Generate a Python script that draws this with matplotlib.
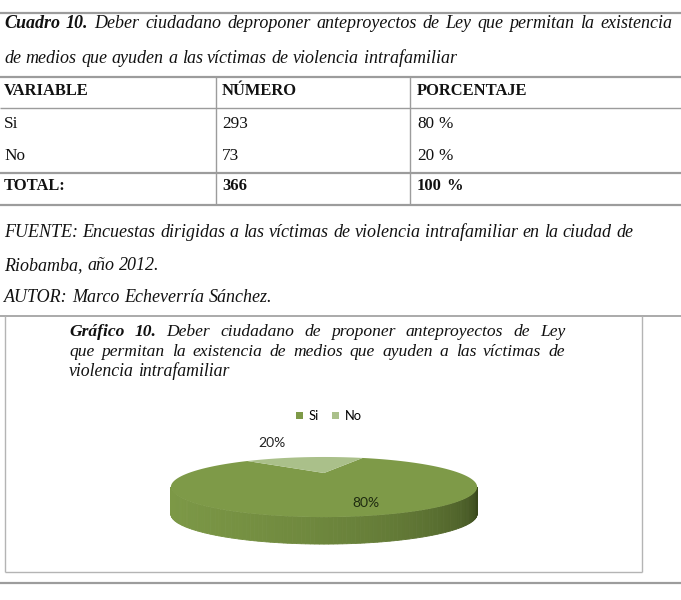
import numpy as np
import matplotlib.pyplot as plt

# datos del cuadro
variables = ['Si', 'No']
numeros = [293, 73]
porcentajes = [80, 20]
total_num = 366
total_pct = 100
encabezados = ['VARIABLE', 'NÚMERO', 'PORCENTAJE']
colores = ['#7e9a48', '#aac08a']

fig = plt.figure(figsize=(6.81, 6.0), dpi=100)
ax = fig.add_axes([0, 0, 1, 1])
ax.set_xlim(0, 681)
ax.set_ylim(600, 0)
ax.axis('off')
rend = fig.canvas.get_renderer()

SERIF = 'Liberation Serif'
SANS = ['Lato', 'DejaVu Sans']
gris = '#9c9c9c'
T_IT = 13.0   # texto cursiva
T_REG = 12.4  # celdas
T_BOLD = 11.9  # encabezados


def linea(x0, x1, y0, y1, lw=1.6, c=gris):
    ax.plot([x0, x1], [y0, y1], color=c, lw=lw, solid_capstyle='butt')


def texto(x, y, partes, size, ancho=None):
    # partes = [(texto, peso, estilo)], se justifica si hay ancho
    palabras = []
    for txt, w, st in partes:
        for p in txt.split(' '):
            if p:
                palabras.append((p, w, st))
    arts = [ax.text(0, y, p, fontsize=size, family=SERIF, weight=w, style=st,
                    va='baseline', ha='left', color='#111111') for p, w, st in palabras]
    anchos = [t.get_window_extent(rend).width for t in arts]
    gap = size * 0.25 * 100 / 72
    if ancho is not None and len(arts) > 1:
        gap = max(gap * 0.6, (ancho - sum(anchos)) / (len(arts) - 1))
    xx = x
    for t, w in zip(arts, anchos):
        t.set_x(xx)
        xx += w + gap


# ---- cuadro ----
linea(0, 681, 13, 13)
texto(4, 28, [('Cuadro 10.', 'bold', 'italic'),
              ('Deber ciudadano deproponer anteproyectos de Ley que permitan la existencia', 'normal', 'italic')],
      T_IT, ancho=668)
texto(4, 63, [('de medios que ayuden a las víctimas de violencia intrafamiliar', 'normal', 'italic')], T_IT)

linea(0, 681, 77, 77)
linea(0, 681, 108, 108, lw=1.0)
linea(0, 681, 173, 173)
linea(0, 681, 205, 205)
linea(216, 216, 77, 205, lw=1.0)
linea(410, 410, 77, 205, lw=1.0)

col_x = [4, 222, 417]
for xc, h in zip(col_x, encabezados):
    texto(xc, 95, [(h, 'bold', 'normal')], T_BOLD)
for i, v in enumerate(variables):
    yb = 128 + i * 32
    texto(col_x[0], yb, [(v, 'normal', 'normal')], T_REG)
    texto(col_x[1], yb, [(str(numeros[i]), 'normal', 'normal')], T_REG)
    texto(col_x[2], yb, [(f'{porcentajes[i]} %', 'normal', 'normal')], T_REG)
texto(col_x[0], 190, [('TOTAL:', 'bold', 'normal')], T_BOLD)
texto(col_x[1], 190, [(str(total_num), 'bold', 'normal')], T_BOLD)
texto(col_x[2], 190, [(f'{total_pct} %', 'bold', 'normal')], T_BOLD)

texto(4, 237, [('FUENTE: Encuestas dirigidas a las víctimas de violencia intrafamiliar en la ciudad de', 'normal', 'italic')], T_IT)
texto(4, 270, [('Riobamba, año 2012.', 'normal', 'italic')], T_IT)
texto(4, 302, [('AUTOR: Marco Echeverría Sánchez.', 'normal', 'italic')], T_IT)

# ---- recuadro del grafico ----
linea(0, 681, 316, 316, lw=1.2)
linea(5, 5, 316, 572, lw=1.0, c='#b4b4b4')
linea(642, 642, 316, 572, lw=1.0, c='#b4b4b4')
linea(5, 642, 572, 572, lw=1.0, c='#b4b4b4')
linea(0, 681, 583, 583, lw=1.6)

texto(69, 336, [('Gráfico 10.', 'bold', 'italic'),
                ('Deber ciudadano de proponer anteproyectos de Ley', 'normal', 'italic')], 12.6, ancho=496)
texto(69, 356, [('que permitan la existencia de medios que ayuden a las víctimas de', 'normal', 'italic')], 12.6, ancho=496)
texto(69, 376, [('violencia intrafamiliar', 'normal', 'italic')], 12.8)

# ---- pastel 3D ----
cx, cy, a, b, k, prof = 324, 473, 135.4, 23.5, 0.467, 27


def proy(th, r=1.0):
    s = r * np.sin(th)
    c = r * np.cos(th)
    f = 1.0 / (1 + k * s)
    return cx + a * c * f, cy - b * s * f


# lado frontal con degradado
th_izq = np.pi + np.arcsin(k)
th_der = 2 * np.pi - np.arcsin(k)
n = 120
ths = np.linspace(th_izq, th_der, n + 1)
c_claro = np.array([0x7c, 0x98, 0x46]) / 255
c_oscuro = np.array([0x38, 0x47, 0x1c]) / 255
for i in range(n):
    x0, y0 = proy(ths[i])
    x1, y1 = proy(ths[i + 1])
    t = (i + 0.5) / n
    col = c_claro + (c_oscuro - c_claro) * t ** 2.2
    ax.fill([x0, x1, x1, x0], [y0, y1, y1 + prof, y0 + prof], color=col, lw=0.6, ec=col)

# caras superiores
fr = np.array(porcentajes) / sum(porcentajes)
inicio = np.deg2rad(66)
handles = []
for v, f, col in zip(variables, fr, colores):
    fin = inicio - f * 2 * np.pi
    tt = np.linspace(inicio, fin, 200)
    px, py = proy(tt)
    p = ax.fill(np.r_[cx, px], np.r_[cy, py], color=col, lw=0, label=v)[0]
    handles.append(p)
    inicio = fin

ax.text(272, 443, f'{porcentajes[1]}%', fontsize=10, family=SANS, ha='center', va='center', color='#222222')
ax.text(366, 503, f'{porcentajes[0]}%', fontsize=10, family=SANS, ha='center', va='center', color='#1e2a10')

ax.legend(handles, variables, loc='center', bbox_to_anchor=(329, 416), bbox_transform=ax.transData,
          ncol=2, frameon=False, prop={'family': SANS, 'size': 9.3},
          handlelength=0.55, handleheight=0.55, handletextpad=0.45, columnspacing=1.0,
          borderpad=0, borderaxespad=0)

fig.savefig('out.png', dpi=100)
